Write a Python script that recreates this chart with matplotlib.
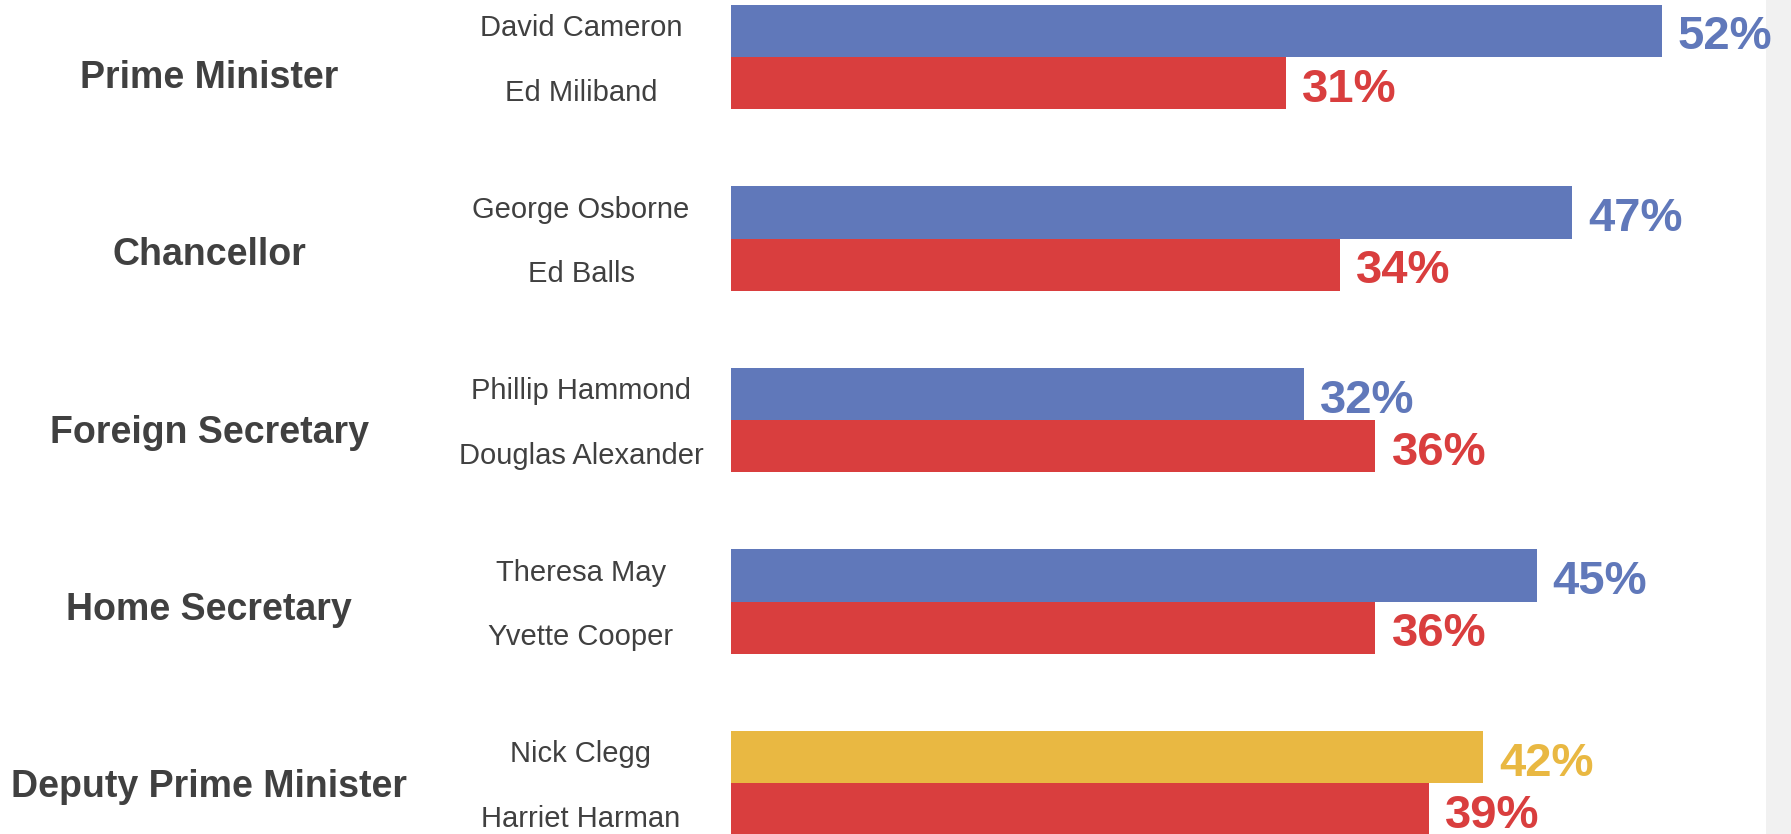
import matplotlib.pyplot as plt
import matplotlib.transforms as mtransforms
from matplotlib.patches import Rectangle

offices = ["Prime Minister", "Chancellor", "Foreign Secretary",
           "Home Secretary", "Deputy Prime Minister"]
gov_names = ["David Cameron", "George Osborne", "Phillip Hammond",
             "Theresa May", "Nick Clegg"]
gov_values = [52, 47, 32, 45, 42]
lab_names = ["Ed Miliband", "Ed Balls", "Douglas Alexander",
             "Yvette Cooper", "Harriet Harman"]
lab_values = [31, 34, 36, 36, 39]
gov_party = ["con", "con", "con", "con", "lib"]

party_colors = {"con": "#6078BA", "lib": "#E9B842", "lab": "#D93E3E"}
text_color = "#404040"

plt.rcParams['font.family'] = ['Liberation Sans', 'DejaVu Sans']

W, H = 1791, 834
fig = plt.figure(figsize=(W / 100, H / 100), dpi=100)
fig.patch.set_facecolor("white")

# grey strip on the right edge, behind everything
fig.patches.append(Rectangle((1766 / W, 0), 25 / W, 1, transform=fig.transFigure,
                             facecolor="#F1F1F1", edgecolor="none", zorder=-1))

ax = fig.add_axes([731 / W, 0, (1766 - 731) / W, 1])
ax.set_xlim(0, (1766 - 731) / 17.9)
ax.set_ylim(4.279, -0.314)
ax.axis("off")

bh = 0.288
n = len(offices)
top_y = [i - bh / 2 for i in range(n)]
bot_y = [i + bh / 2 for i in range(n)]
top_cols = [party_colors[p] for p in gov_party]

ax.barh(top_y, gov_values, height=bh, color=top_cols, edgecolor="none")
ax.barh(bot_y, lab_values, height=bh, color=party_colors["lab"], edgecolor="none")

for y, v, c in zip(top_y, gov_values, top_cols):
    ax.text(v + 0.9, y + 0.036, f"{v}%", color=c, fontsize=34, fontweight="bold",
            va="center", ha="left")
for y, v in zip(bot_y, lab_values):
    ax.text(v + 0.9, y + 0.036, f"{v}%", color=party_colors["lab"], fontsize=34,
            fontweight="bold", va="center", ha="left")

trans = mtransforms.blended_transform_factory(fig.transFigure, ax.transData)
for i, office in enumerate(offices):
    ax.text(209 / W, 0.114 + i * 0.977, office, transform=trans, fontsize=27,
            fontweight="bold", color=text_color, ha="center", va="center")
for y, name in zip(top_y, gov_names):
    ax.text(581 / W, y - 0.015, name, transform=trans, fontsize=21,
            color=text_color, ha="center", va="center")
for y, name in zip(bot_y, lab_names):
    ax.text(581 / W, y + 0.052, name, transform=trans, fontsize=21,
            color=text_color, ha="center", va="center")

fig.savefig("out.png", dpi=100)
